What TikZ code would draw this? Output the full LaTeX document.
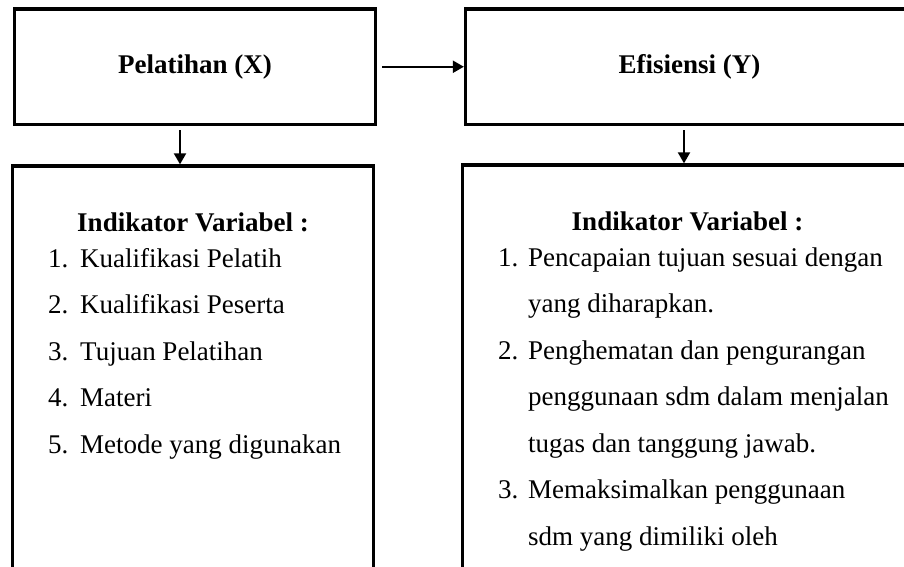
\documentclass[tikz,border=0pt]{standalone}
\usepackage{fontspec}
\setmainfont{Liberation Serif}
\usetikzlibrary{positioning,arrows.meta}

\begin{document}
\begin{tikzpicture}[
        x=1pt, y=-1pt,
        varbox/.style={draw, line width=3.3pt, outer sep=0pt, minimum height=115.5pt, font=\fontsize{27pt}{32pt}\selectfont\bfseries}, % Variable box
        indbox/.style={draw, line width=3.3pt, outer sep=0pt, minimum height=450pt}, % Indicator box
        heading/.style={inner sep=0pt, anchor=base, font=\fontsize{27pt}{32pt}\selectfont\bfseries}, % Heading text
        item/.style={inner sep=0pt, anchor=base west, font=\fontsize{27pt}{32pt}\selectfont}, % List text
        arrow/.style={line width=2pt, -{Triangle[length=11pt, width=12pt]}} % Arrow styling
        ]

        \useasboundingbox (0,0) rectangle (904,567);
        \clip (0,0) rectangle (904,567);

        % Define nodes
        \node (pelatihan) [varbox, minimum width=361pt] at (195,66.75) {Pelatihan (X)};
        \node (efisiensi) [varbox, minimum width=448pt, right=90pt of pelatihan] {Efisiensi (Y)};
        \node (indX) [indbox, minimum width=360.5pt, below=41.5pt of pelatihan, xshift=-2pt] {};
        \node (indY) [indbox, minimum width=449.5pt, below=40.5pt of efisiensi, xshift=-2pt] {};

        \node (headX) [heading] at ([yshift=-65pt]indX.north) {Indikator Variabel :};
        \node (headY) [heading] at ([yshift=-65pt]indY.north) {Indikator Variabel :};

        % Indicator lists
        \foreach \num/\txt [count=\i] in {1./Kualifikasi Pelatih, 2./Kualifikasi Peserta, 3./Tujuan Pelatihan, 4./Materi, 5./Metode yang digunakan}
            \node (itemX\i) [item] at (48,{267+46.5*(\i-1)}) {\makebox[32pt][l]{\num}\txt};

        \foreach \num/\txt [count=\i] in {1./Pencapaian tujuan sesuai dengan, /yang diharapkan., 2./Penghematan dan pengurangan, /penggunaan sdm dalam menjalan, /tugas dan tanggung jawab., 3./Memaksimalkan penggunaan, /sdm yang dimiliki oleh}
            \node (itemY\i) [item] at (498,{266+46.5*(\i-1)}) {\makebox[30pt][l]{\num}\txt};

        % Draw arrows
        \draw[arrow, shorten >=1.65pt] ([xshift=6.5pt]pelatihan.east) -- (efisiensi.west);
        \draw[arrow, shorten >=1.65pt] ([xshift=-15pt, yshift=-5.5pt]pelatihan.south) -- ([xshift=-15pt]pelatihan.south |- indX.north);
        \draw[arrow, shorten >=1.65pt] ([xshift=-5.5pt, yshift=-5.5pt]efisiensi.south) -- ([xshift=-5.5pt]efisiensi.south |- indY.north);

    \end{tikzpicture}
\end{document}
